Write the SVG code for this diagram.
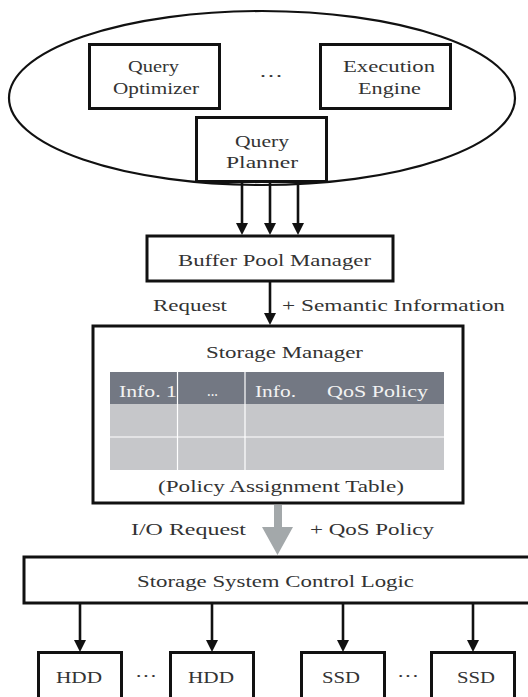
<svg xmlns="http://www.w3.org/2000/svg" width="528" height="697" viewBox="0 0 528 697">
<defs>
<style>
text{font-family:"Liberation Serif","DejaVu Serif",serif;font-size:16.5px;fill:#333}
.box{fill:#fff;stroke:#111;stroke-width:3}
.hd{fill:#f2f2f2}
.conn{stroke:#111;stroke-width:2.6;fill:none;marker-end:url(#ah)}
</style>
<marker id="ah" markerUnits="userSpaceOnUse" markerWidth="12" markerHeight="12" refX="6" refY="6" orient="auto" viewBox="0 0 12 12">
<path d="M0,0 L12,6 L0,12 z" fill="#111"/>
</marker>
</defs>
<rect width="528" height="697" fill="#fff"/>
<g id="dbms">
<ellipse cx="262" cy="98" rx="253" ry="87" fill="none" stroke="#111" stroke-width="2.2"/>
</g>
<g id="query-optimizer">
<rect class="box" x="89.5" y="44.5" width="130" height="64"/>
<text x="128" y="72" textLength="51" lengthAdjust="spacingAndGlyphs">Query</text>
<text x="113" y="94" textLength="86" lengthAdjust="spacingAndGlyphs">Optimizer</text>
</g>
<g id="dots-top"><text x="259" y="82" textLength="24" lengthAdjust="spacingAndGlyphs">···</text></g>
<g id="execution-engine">
<rect class="box" x="320.5" y="44.5" width="130" height="64"/>
<text x="343" y="72" textLength="92" lengthAdjust="spacingAndGlyphs">Execution</text>
<text x="358" y="94" textLength="63" lengthAdjust="spacingAndGlyphs">Engine</text>
</g>
<g id="query-planner">
<rect class="box" x="196.5" y="117.5" width="130" height="64"/>
<text x="235" y="147" textLength="54" lengthAdjust="spacingAndGlyphs">Query</text>
<text x="226" y="168" textLength="72" lengthAdjust="spacingAndGlyphs">Planner</text>
</g>
<g id="buffer-pool-manager">
<rect class="box" x="147" y="236" width="246" height="45"/>
<text x="178" y="266" textLength="193" lengthAdjust="spacingAndGlyphs">Buffer Pool Manager</text>
</g>
<g id="storage-manager">
<rect class="box" x="93" y="326" width="370" height="177"/>
<text x="206" y="358" textLength="157" lengthAdjust="spacingAndGlyphs">Storage Manager</text>
<rect x="110" y="372" width="334" height="32" fill="#737883"/>
<rect x="110" y="404" width="334" height="66" fill="#c6c7ca"/>
<line x1="110" y1="437" x2="444" y2="437" stroke="#fff" stroke-width="1.2"/>
<line x1="177.5" y1="372" x2="177.5" y2="470" stroke="#fff" stroke-width="1.2"/>
<line x1="245" y1="372" x2="245" y2="470" stroke="#fff" stroke-width="1.2"/>
<text class="hd" x="119" y="397" textLength="58" lengthAdjust="spacingAndGlyphs">Info. 1</text>
<text class="hd" x="207" y="396" textLength="11" lengthAdjust="spacingAndGlyphs">...</text>
<text class="hd" x="255" y="397" textLength="41" lengthAdjust="spacingAndGlyphs">Info.</text>
<text class="hd" x="327" y="397" textLength="101" lengthAdjust="spacingAndGlyphs">QoS Policy</text>
<text x="158" y="492" textLength="246" lengthAdjust="spacingAndGlyphs">(Policy Assignment Table)</text>
</g>
<g id="storage-system-control-logic">
<rect class="box" x="24" y="557" width="520" height="46"/>
<text x="137" y="587" textLength="277" lengthAdjust="spacingAndGlyphs">Storage System Control Logic</text>
</g>
<g id="hdd-1">
<rect class="box" x="38.5" y="652.5" width="83" height="70"/>
<text x="56" y="683" textLength="46" lengthAdjust="spacingAndGlyphs">HDD</text>
</g>
<g id="dots-hdd"><text x="135" y="682" textLength="22" lengthAdjust="spacingAndGlyphs">···</text></g>
<g id="hdd-2">
<rect class="box" x="170.5" y="652.5" width="83" height="70"/>
<text x="188" y="683" textLength="46" lengthAdjust="spacingAndGlyphs">HDD</text>
</g>
<g id="ssd-1">
<rect class="box" x="301.5" y="652.5" width="83" height="70"/>
<text x="322" y="683" textLength="38" lengthAdjust="spacingAndGlyphs">SSD</text>
</g>
<g id="dots-ssd"><text x="397" y="682" textLength="22" lengthAdjust="spacingAndGlyphs">···</text></g>
<g id="ssd-2">
<rect class="box" x="431.5" y="652.5" width="83" height="70"/>
<text x="457" y="683" textLength="38" lengthAdjust="spacingAndGlyphs">SSD</text>
</g>
<g id="connectors">
<line class="conn" x1="242" y1="183" x2="242" y2="229"/>
<line class="conn" x1="270" y1="183" x2="270" y2="229"/>
<line class="conn" x1="298" y1="183" x2="298" y2="229"/>
<line class="conn" x1="270" y1="282" x2="270" y2="319"/>
<text x="153" y="311" textLength="74" lengthAdjust="spacingAndGlyphs">Request</text>
<text x="282" y="311" textLength="223" lengthAdjust="spacingAndGlyphs">+ Semantic Information</text>
<polygon points="274,505 282,505 282,527 293,527 277.5,555 262,527 274,527" fill="#a3a8aa"/>
<text x="131" y="535" textLength="115" lengthAdjust="spacingAndGlyphs">I/O Request</text>
<text x="310" y="535" textLength="124" lengthAdjust="spacingAndGlyphs">+ QoS Policy</text>
<line class="conn" x1="80" y1="604" x2="80" y2="646"/>
<line class="conn" x1="212" y1="604" x2="212" y2="646"/>
<line class="conn" x1="343" y1="604" x2="343" y2="646"/>
<line class="conn" x1="473" y1="604" x2="473" y2="646"/>
</g>
</svg>
